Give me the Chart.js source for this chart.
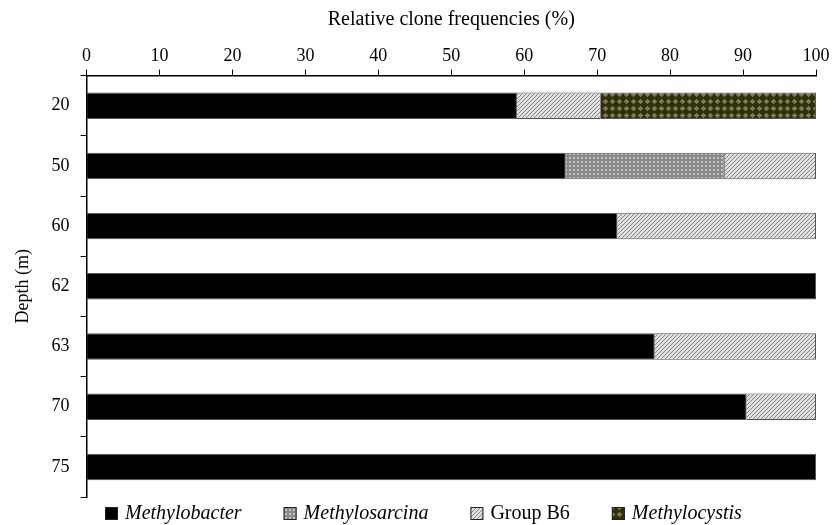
<!DOCTYPE html>
<html lang="en">
<head>
    <meta charset="UTF-8">
    <title>Relative clone frequencies by depth</title>
    <script src="https://cdn.jsdelivr.net/npm/chart.js"></script>
    <style>
        body { margin: 0; background: #fff; }
        .wrap { width: 838px; height: 525px; }
    </style>
</head>
<body>
    <div class="wrap"><canvas id="chart"></canvas></div>

    <script>
        // depths (m) and clone frequencies (%) per group
        const depths = ['20', '50', '60', '62', '63', '70', '75'];
        const methylobacter = [59, 65.7, 72.8, 100, 77.9, 90.5, 100];
        const methylosarcina = [null, 21.8, null, null, null, null, null];
        const groupB6 = [11.5, 12.5, 27.2, null, 22.1, 9.5, null];
        const methylocystis = [29.5, null, null, null, null, null, null];
        const seriesNames = ['Methylobacter', 'Methylosarcina', 'Group B6', 'Methylocystis'];
        const italicNames = [true, true, false, true];

        // small fill patterns like the printed figure
        function makePattern(size, draw) {
            const c = document.createElement('canvas');
            c.width = c.height = size;
            const g = c.getContext('2d');
            draw(g, size);
            return g.createPattern(c, 'repeat');
        }

        const dotted = makePattern(4, (g) => {
            g.fillStyle = '#8a8a8a';
            g.fillRect(0, 0, 4, 4);
            g.fillStyle = '#c2c2c2';
            g.fillRect(1, 1, 2, 2);
        });

        const hatched = makePattern(4, (g) => {
            g.fillStyle = '#e0e0e0';
            g.fillRect(0, 0, 4, 4);
            g.strokeStyle = '#858585';
            g.lineWidth = 1;
            g.beginPath();
            g.moveTo(0, 4); g.lineTo(4, 0);
            g.moveTo(-1, 1); g.lineTo(1, -1);
            g.moveTo(3, 5); g.lineTo(5, 3);
            g.stroke();
        });

        const diamonds = makePattern(7, (g) => {
            g.fillStyle = '#2f2f08';
            g.fillRect(0, 0, 7, 7);
            g.fillStyle = '#7c7c5c';
            g.beginPath();
            g.moveTo(3.5, 0.7); g.lineTo(6.3, 3.5); g.lineTo(3.5, 6.3); g.lineTo(0.7, 3.5);
            g.closePath();
            g.fill();
        });

        const serif = 'Liberation Serif';

        // legend drawn by hand so genus names can be italic
        const legendPlugin = {
            id: 'mixedLegend',
            afterDraw(chart) {
                const ctx = chart.ctx;
                const y = 513;
                let x = 105;
                ctx.save();
                chart.data.datasets.forEach((ds, i) => {
                    ctx.fillStyle = ds.backgroundColor;
                    ctx.fillRect(x, y - 6, 13, 13);
                    ctx.strokeStyle = '#222';
                    ctx.lineWidth = 1;
                    ctx.strokeRect(x + 0.5, y - 5.5, 12, 12);
                    x += 20;
                    ctx.font = (italicNames[i] ? 'italic ' : '') + '20px "' + serif + '"';
                    ctx.fillStyle = '#000';
                    ctx.textBaseline = 'middle';
                    ctx.fillText(ds.label, x, y + 1);
                    x += ctx.measureText(ds.label).width + 42;
                });
                ctx.restore();
            }
        };

        new Chart(document.getElementById('chart'), {
            type: 'bar',
            data: {
                labels: depths,
                datasets: [
                    { label: seriesNames[0], data: methylobacter, backgroundColor: '#000' },
                    { label: seriesNames[1], data: methylosarcina, backgroundColor: dotted },
                    { label: seriesNames[2], data: groupB6, backgroundColor: hatched },
                    { label: seriesNames[3], data: methylocystis, backgroundColor: diamonds }
                ]
            },
            options: {
                indexAxis: 'y',
                responsive: true,
                maintainAspectRatio: false,
                animation: false,
                datasets: {
                    bar: {
                        borderColor: '#555',
                        borderWidth: 1,
                        barPercentage: 0.44,
                        categoryPercentage: 1
                    }
                },
                layout: { padding: { top: 8, left: 12, right: 22, bottom: 28 } },
                plugins: {
                    legend: { display: false },
                    tooltip: { enabled: false }
                },
                scales: {
                    x: {
                        position: 'top',
                        stacked: true,
                        min: 0,
                        max: 100,
                        ticks: { stepSize: 10, color: '#000', padding: 3, font: { family: serif, size: 18 } },
                        grid: { drawOnChartArea: false, tickLength: 6, color: '#000', lineWidth: 1 },
                        border: { color: '#000', width: 1.5 },
                        title: {
                            display: true,
                            text: 'Relative clone frequencies (%)',
                            color: '#000',
                            font: { family: serif, size: 20 },
                            padding: { top: 0, bottom: 10 }
                        }
                    },
                    y: {
                        stacked: true,
                        ticks: { color: '#000', padding: 11, font: { family: serif, size: 18 } },
                        grid: { drawOnChartArea: false, offset: true, tickLength: 6, color: '#000', lineWidth: 1 },
                        border: { color: '#000', width: 1.5 },
                        title: {
                            display: true,
                            text: 'Depth (m)',
                            color: '#000',
                            font: { family: serif, size: 18 },
                            padding: { top: 0, bottom: 7 }
                        }
                    }
                }
            },
            plugins: [legendPlugin]
        });
    </script>
</body>
</html>
